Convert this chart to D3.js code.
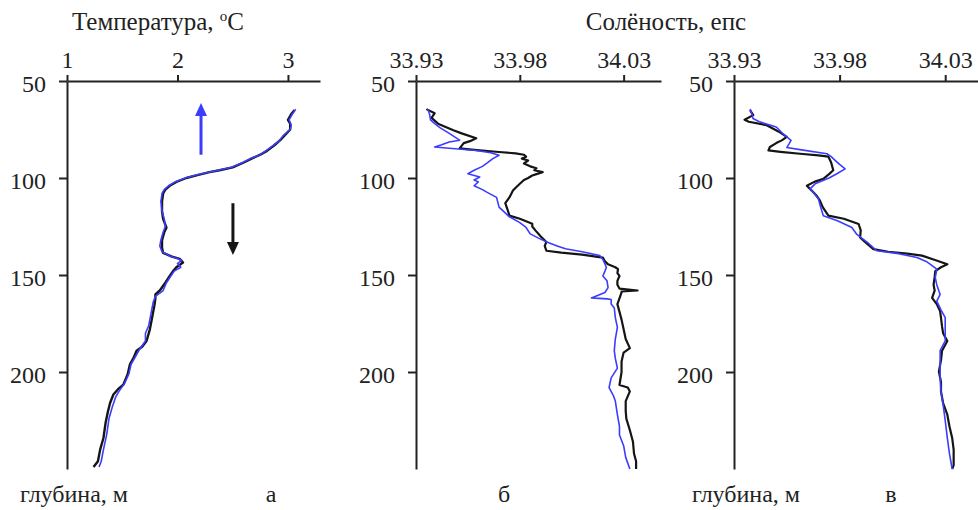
<!DOCTYPE html>
<html><head><meta charset="utf-8">
<script src="https://cdn.jsdelivr.net/npm/d3@7"></script>
<style>
body{margin:0;background:#fff}
.cs, .cs text{font-family:"Liberation Serif","DejaVu Serif",serif}
</style></head>
<body><svg id="c" class="cs" width="978" height="510"></svg>
<script>
// ---- data: [depth m, value] ----
const tempBlack = [[65,3.06],[67,3.03],[70,3.00],[72,3.02],[75,3.02],[78,2.97],[80.5,2.93],[83,2.88],[86,2.81],[88,2.75],[90,2.67],[92,2.60],[94.5,2.50],[96,2.38],[97,2.29],[98.5,2.18],[100,2.08],[102,1.99],[104,1.93],[106,1.89],[108,1.87],[112,1.86],[117,1.86],[121,1.87],[125.6,1.90],[128,1.88],[132,1.86],[136,1.86],[138.6,1.87],[140.5,1.95],[141.7,2.02],[143.6,2.05],[146,1.99],[148,1.96],[150.5,1.93],[154,1.89],[158,1.84],[160,1.80],[162,1.80],[166,1.79],[172,1.77],[178,1.75],[184,1.72],[187,1.68],[189,1.63],[193,1.60],[196,1.57],[201,1.55],[206.5,1.51],[209,1.46],[211.6,1.42],[216,1.39],[220.5,1.37],[226,1.35],[234,1.33],[240,1.30],[246,1.28],[249,1.24]];
const tempBlue = [[64.5,3.07],[67,3.04],[70,3.01],[73,3.03],[75,3.02],[78,2.96],[81,2.92],[83,2.87],[86,2.80],[88,2.75],[90,2.66],[92,2.59],[94.5,2.49],[96,2.37],[97,2.28],[98.5,2.17],[100,2.07],[102,1.98],[104,1.92],[106,1.88],[108,1.86],[112,1.85],[117,1.86],[121,1.88],[125,1.89],[128,1.87],[132,1.85],[135,1.84],[138,1.86],[140.5,1.94],[141.5,2.00],[142.5,2.04],[144,2.00],[146,2.03],[148,1.97],[150.5,1.94],[154,1.90],[158,1.87],[161,1.80],[164,1.78],[170,1.76],[176,1.74],[180,1.71],[184,1.71],[188,1.66],[192,1.62],[196,1.58],[201,1.56],[206,1.52],[210,1.47],[213,1.44],[218,1.41],[224,1.38],[232,1.36],[240,1.33],[246,1.31],[249,1.29]];
const salBBlack = [[64.5,33.935],[66.6,33.939],[69,33.9375],[72,33.9406],[75.4,33.948],[77,33.952],[79.5,33.959],[81,33.956],[82,33.953],[84.7,33.951],[85.5,33.958],[86.6,33.970],[87.3,33.978],[88,33.982],[89,33.983],[90,33.981],[91,33.984],[92.5,33.982],[94,33.985],[95,33.988],[96,33.987],[97,33.991],[98,33.988],[98.7,33.986],[100,33.984],[101,33.982],[103,33.980],[105,33.978],[106.5,33.9767],[110,33.975],[113,33.973],[116,33.974],[119.4,33.975],[121,33.980],[123.6,33.986],[125,33.986],[127,33.9875],[130,33.990],[133,33.9928],[135,33.992],[137.5,33.9928],[138.5,34.000],[139.5,34.010],[141,34.020],[143,34.021],[144.5,34.0225],[146,34.026],[147,34.0273],[149,34.027],[150.5,34.028],[153,34.027],[155,34.027],[157,34.028],[158,34.0367],[158.5,34.029],[159,34.029],[162,34.028],[165,34.027],[169,34.028],[173,34.029],[178,34.030],[183,34.031],[187.7,34.033],[190,34.030],[194.6,34.029],[200,34.029],[206.7,34.028],[208,34.032],[210,34.033],[215,34.031],[220,34.031],[224,34.0313],[230,34.033],[236,34.0345],[242,34.035],[246,34.036],[250,34.036]];
const salBBlue = [[64.5,33.9357],[67,33.9365],[70,33.937],[72,33.939],[74,33.9415],[77,33.946],[80.5,33.951],[81.4,33.946],[83,33.942],[84,33.939],[84.7,33.946],[85.8,33.959],[87,33.966],[88.3,33.970],[90,33.967],[92.5,33.964],[94,33.962],[96,33.958],[97.8,33.955],[99.5,33.9607],[101,33.958],[102,33.960],[104,33.958],[106,33.962],[107.4,33.9643],[110,33.9688],[115,33.970],[120,33.975],[123,33.980],[125.5,33.983],[128.8,33.985],[131,33.989],[133,33.993],[135,33.998],[136.5,34.002],[138,34.010],[140,34.0185],[142,34.020],[146,34.0217],[148,34.021],[150.5,34.020],[153,34.022],[156.5,34.0225],[159,34.021],[161.8,34.0145],[162.3,34.022],[162.6,34.024],[165,34.024],[167,34.0255],[172,34.026],[177,34.027],[183,34.026],[189,34.0255],[193,34.026],[198,34.027],[203,34.024],[208,34.023],[212,34.025],[215,34.026],[222,34.027],[228,34.028],[232.5,34.028],[238,34.030],[244,34.031],[250,34.033]];
const salCBlack = [[65,33.9376],[67.6,33.9391],[70,33.935],[71,33.937],[72.8,33.9455],[76,33.951],[78.8,33.955],[80.6,33.9526],[82,33.950],[84,33.947],[85.8,33.9463],[86.5,33.952],[87.5,33.9613],[88.3,33.970],[89,33.9747],[92,33.976],[96,33.977],[98,33.975],[100.4,33.9723],[102,33.968],[104,33.9645],[106.5,33.9668],[109,33.969],[111.7,33.9707],[115,33.972],[119.4,33.9747],[121,33.982],[123.7,33.989],[127,33.990],[130.7,33.9897],[133,33.992],[136.7,33.996],[138,34.003],[139,34.012],[140,34.019],[142,34.0245],[144.5,34.031],[146,34.028],[148,34.0253],[151,34.025],[155,34.0245],[158,34.025],[161.8,34.0238],[165,34.026],[168.7,34.0276],[172,34.028],[176.5,34.0285],[180,34.029],[184,34.031],[189,34.0285],[194,34.028],[199.8,34.027],[205,34.028],[210,34.028],[216,34.029],[222,34.031],[228,34.032],[234,34.0333],[240,34.034],[244.6,34.034],[248,34.034],[250,34.0333]];
const salCBlue = [[64.5,33.9376],[67,33.9385],[69.3,33.939],[71,33.942],[73.7,33.950],[77,33.953],[80.6,33.957],[82.5,33.956],[84.3,33.955],[85.5,33.962],[87.5,33.974],[89,33.976],[91,33.978],[93,33.980],[95.3,33.9826],[97.8,33.9787],[100,33.975],[103,33.9684],[105.6,33.966],[108,33.968],[110.8,33.970],[115,33.971],[119.4,33.9723],[122,33.979],[125.5,33.9858],[128.9,33.988],[133,33.993],[137.5,33.9976],[139,34.008],[141,34.0166],[143,34.021],[144.5,34.023],[147,34.026],[151.4,34.0253],[155,34.026],[160,34.0276],[163.5,34.026],[168,34.028],[172,34.030],[178,34.030],[184,34.030],[189,34.0276],[196,34.0276],[203,34.0276],[210,34.028],[216.8,34.029],[225,34.030],[234,34.031],[242,34.032],[250,34.0333]];
const depthTicks = [50,100,150,200];
const tempTicks = [1,2,3];
const salTicks = [33.93,33.98,34.03];
const salTickLabels = ["33.93","33.98","34.03"];
// arrows: [temperature, depth from, depth to (tip)]
const arrowBlue = [2.213, 88, 61.3];
const arrowBlack = [2.502, 113, 139.7];

const FAM = "Liberation Serif, DejaVu Serif";
const svg = d3.select("#c");
const y = d3.scaleLinear().domain([50,250]).range([81,469]);
const xT = d3.scaleLinear().domain([1,3.29]).range([67,320]);
const xB = d3.scaleLinear().domain([33.93,34.048]).range([416,661]);
const xC = d3.scaleLinear().domain([33.93,34.046]).range([734,979]);
const FS = 24;
const BLUE = "#3c3cff", BLACK = "#151515";

function panel(x, ticks, labels, series){
  const g = svg.append("g");
  const ax = g.append("g").attr("transform",`translate(0,${y(50)})`)
    .call(d3.axisTop(x).tickValues(ticks).tickFormat((d,i)=>labels?labels[i]:d).tickSize(6).tickSizeOuter(0).tickPadding(7));
  const ay = g.append("g").attr("transform",`translate(${x.range()[0]},0)`)
    .call(d3.axisLeft(y).tickValues(depthTicks).tickSize(8).tickSizeOuter(0).tickPadding(13));
  [ax,ay].forEach(a=>{
    a.attr("font-family", FAM).attr("font-size", FS);
    a.selectAll("path,line").attr("stroke","#222").attr("stroke-width",2);
    a.selectAll("text").attr("font-family", FAM).attr("font-size",FS).attr("fill","#222");
  });
  ay.selectAll("text").attr("dy","0.45em");
  series.forEach(([data,color,w])=>{
    g.append("path").datum(data)
      .attr("fill","none").attr("stroke",color).attr("stroke-width",w).attr("stroke-linejoin","round")
      .attr("d", d3.line().x(d=>x(d[1])).y(d=>y(d[0])));
  });
  return g;
}
panel(xT, tempTicks, null, [[tempBlack,BLACK,2.4],[tempBlue,BLUE,1.6]]);
panel(xB, salTicks, salTickLabels, [[salBBlack,BLACK,2.2],[salBBlue,BLUE,1.6]]);
panel(xC, salTicks, salTickLabels, [[salCBlack,BLACK,2.2],[salCBlue,BLUE,1.6]]);

// arrows
function arrow(a,color){
  const x0 = xT(a[0]), y0 = y(a[1]), y1 = y(a[2]);
  const dir = Math.sign(y1-y0), hl = 13, hw = 6;
  svg.append("line").attr("x1",x0).attr("x2",x0).attr("y1",y0).attr("y2",y1-dir*hl)
    .attr("stroke",color).attr("stroke-width",3);
  svg.append("path").attr("fill",color)
    .attr("d",`M${x0},${y1}L${x0-hw},${y1-dir*hl}L${x0+hw},${y1-dir*hl}Z`);
}
arrow(arrowBlue,BLUE);
arrow(arrowBlack,BLACK);

function label(x,yy,anchor,s,fs){
  return svg.append("text").attr("x",x).attr("y",yy).attr("text-anchor",anchor)
    .attr("font-family",FAM).attr("font-size",fs||FS).attr("fill","#222").text(s);
}
// titles
const t1 = label(158,30,"middle","",25);
t1.append("tspan").text("Температура, ");
t1.append("tspan").attr("font-size",15).attr("dy",-9).text("o");
t1.append("tspan").attr("dy",9).text("C");
label(666,30,"middle","Солёность, епс",25);
// bottom labels
label(20,502,"start","глубина, м");
label(271,502,"middle","а");
label(504,502,"middle","б");
label(692,502,"start","глубина, м");
label(891,502,"middle","в");
</script></body></html>
